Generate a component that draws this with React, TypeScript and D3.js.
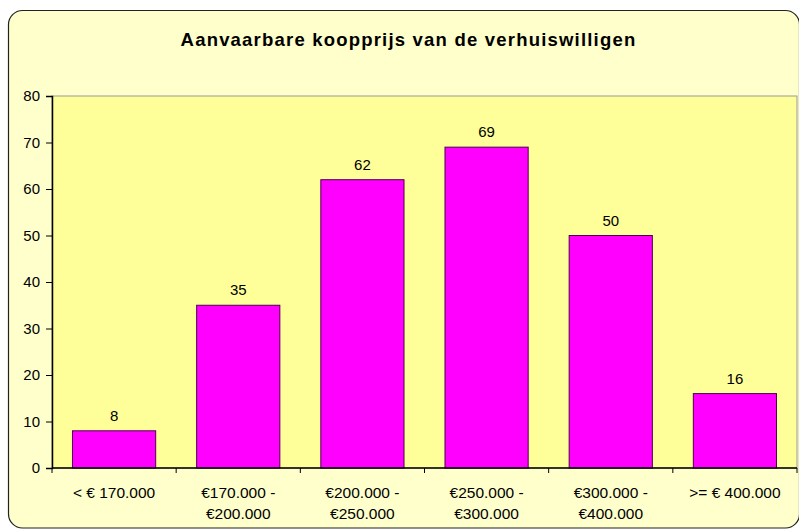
import React, { useEffect, useRef } from 'react';
import * as d3 from 'd3';

// data
const categories = [
  ['< € 170.000'],
  ['€170.000 -', '€200.000'],
  ['€200.000 -', '€250.000'],
  ['€250.000 -', '€300.000'],
  ['€300.000 -', '€400.000'],
  ['>= € 400.000'],
];
const values = [8, 35, 62, 69, 50, 16];
const yTicks = [0, 10, 20, 30, 40, 50, 60, 70, 80];
const title = 'Aanvaarbare koopprijs van de verhuiswilligen';

const App = () => {
  const ref = useRef<SVGSVGElement>(null);

  useEffect(() => {
    const svg = d3.select(ref.current);
    svg.selectAll('*').remove();

    const font = 'Arial, "Liberation Sans", sans-serif';

    // outer frame
    svg.append('rect')
      .attr('x', 8.5).attr('y', 10.5)
      .attr('width', 791).attr('height', 517.5)
      .attr('rx', 14)
      .attr('fill', '#FFFFCC')
      .attr('stroke', '#222').attr('stroke-width', 1.2);

    const left = 52, right = 797, top = 96, bottom = 468;

    const keys = categories.map((c) => c.join(' '));
    const x = d3.scaleBand()
      .domain(keys)
      .range([left, right])
      .paddingInner(0.33)
      .paddingOuter(0.165);

    const y = d3.scaleLinear().domain([0, 80]).range([bottom, top]);

    // plot area
    svg.append('rect')
      .attr('x', left).attr('y', top)
      .attr('width', right - left).attr('height', bottom - top)
      .attr('fill', '#FFFF99')
      .attr('stroke', '#999').attr('stroke-width', 1);

    // title
    svg.append('text')
      .attr('x', 408.5).attr('y', 45.5)
      .attr('text-anchor', 'middle')
      .attr('font-family', font)
      .attr('font-weight', 'bold')
      .attr('font-size', '18.5px')
      .attr('letter-spacing', '1.2px')
      .attr('fill', '#000')
      .text(title);

    // bars
    svg.selectAll('rect.bar')
      .data(values)
      .enter().append('rect')
      .attr('class', 'bar')
      .attr('x', (d, i) => x(keys[i])!)
      .attr('y', (d) => y(d))
      .attr('width', x.bandwidth())
      .attr('height', (d) => bottom - y(d))
      .attr('fill', '#FF00FF')
      .attr('stroke', '#4d004d').attr('stroke-width', 1);

    // value labels
    svg.selectAll('text.val')
      .data(values)
      .enter().append('text')
      .attr('class', 'val')
      .attr('x', (d, i) => x(keys[i])! + x.bandwidth() / 2)
      .attr('y', (d) => y(d) - 10)
      .attr('text-anchor', 'middle')
      .attr('font-family', font)
      .attr('font-size', '15px')
      .attr('fill', '#000')
      .text((d) => d);

    // y axis
    const yAxis = svg.append('g')
      .attr('transform', `translate(${left}, 0)`)
      .call(d3.axisLeft(y).tickValues(yTicks).tickSize(6).tickPadding(6));
    yAxis.select('.domain').attr('stroke', '#000').attr('stroke-width', 1.5);
    yAxis.selectAll('.tick line').attr('stroke', '#000');
    yAxis.selectAll('.tick text')
      .attr('font-family', font).attr('font-size', '15px').attr('fill', '#000');

    // x axis: line + ticks at category boundaries
    const step = x.step();
    svg.append('line')
      .attr('x1', left).attr('x2', right)
      .attr('y1', bottom).attr('y2', bottom)
      .attr('stroke', '#000').attr('stroke-width', 1.5);
    d3.range(categories.length + 1).forEach((i) => {
      const tx = left + i * step;
      svg.append('line')
        .attr('x1', tx).attr('x2', tx)
        .attr('y1', bottom).attr('y2', bottom + 5)
        .attr('stroke', '#000');
    });

    // x labels
    categories.forEach((lines, i) => {
      const cx = x(keys[i])! + x.bandwidth() / 2;
      const t = svg.append('text')
        .attr('text-anchor', 'middle')
        .attr('font-family', font)
        .attr('font-size', '15.5px')
        .attr('fill', '#000');
      lines.forEach((ln, j) => {
        t.append('tspan').attr('x', cx).attr('y', 498 + j * 21).text(ln);
      });
    });
  }, []);

  return (
    <svg ref={ref} width={799} height={530}
      style={{ position: 'absolute', left: 0, top: 0, background: '#fff' }} />
  );
};

export default App;
